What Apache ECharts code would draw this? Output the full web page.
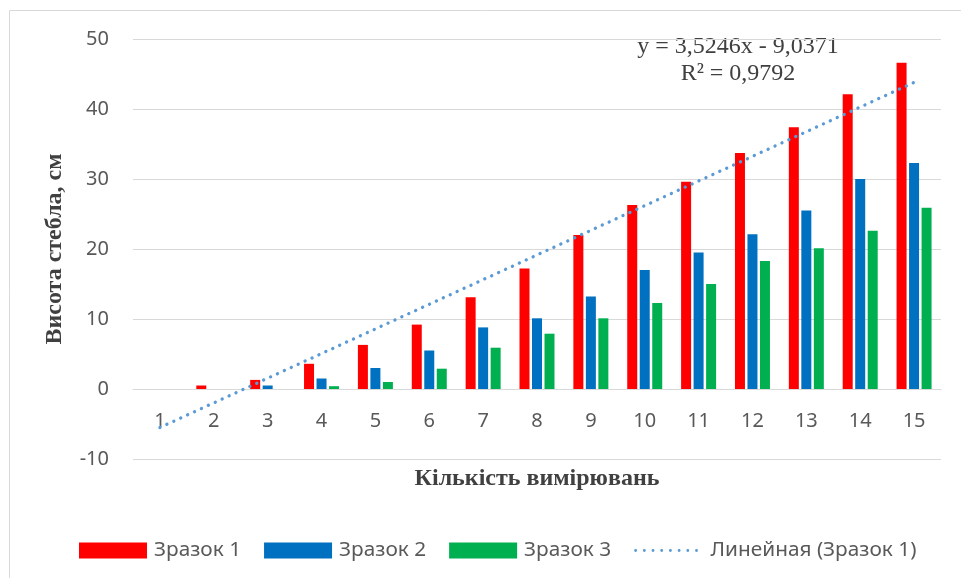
<!DOCTYPE html>
<html>
<head>
<meta charset="utf-8">
<script src="https://cdn.jsdelivr.net/npm/echarts@6/dist/echarts.min.js"></script>
<style>
  html, body { margin: 0; padding: 0; background: #fff; }
  #chart { width: 961px; height: 578px; }
</style>
</head>
<body>
<div id="chart"></div>
<script>
// кількість вимірювань
const categories = ['1', '2', '3', '4', '5', '6', '7', '8', '9', '10', '11', '12', '13', '14', '15']
const sample1 = [0, 0.5, 1.3, 3.6, 6.3, 9.2, 13.1, 17.2, 22.0, 26.3, 29.6, 33.7, 37.4, 42.1, 46.6]
const sample2 = [0, 0, 0.5, 1.5, 3.0, 5.5, 8.8, 10.1, 13.2, 17.0, 19.5, 22.1, 25.5, 30.0, 32.3]
const sample3 = [0, 0, 0, 0.4, 1.0, 2.9, 5.9, 7.9, 10.1, 12.3, 15.0, 18.3, 20.1, 22.6, 25.9]
// лінія тренду: значення на краях (1 та 15)
const trendStart = -5.5
const trendEnd = 43.8
const equationLines = ['y = 3,5246x - 9,0371', 'R² = 0,9792']
const yTicks = [-10, 0, 10, 20, 30, 40, 50]

let trend = categories.map((c, i) => {
  if (i === 0) return trendStart
  if (i === categories.length - 1) return trendEnd
  return null
})

let chart = echarts.init(document.getElementById('chart'), null, { renderer: 'canvas' })

const labelFont = 'Noto Sans'
const serif = 'Liberation Serif'

let option = {
  backgroundColor: '#fff',
  animation: false,
  graphic: [
    {
      type: 'rect',
      shape: { x: 9.5, y: 10.5, width: 1000, height: 1000 },
      style: { fill: 'none', stroke: '#d9d9d9', lineWidth: 1 },
      silent: true
    },
    {
      type: 'text',
      silent: true,
      style: {
        x: 738,
        y: 33,
        text: equationLines.join('\n'),
        font: '24px "' + serif + '"',
        fill: '#404040',
        align: 'center',
        verticalAlign: 'top',
        lineHeight: 27
      }
    }
  ],
  legend: {
    left: 79,
    top: 540,
    padding: 0,
    itemWidth: 68,
    itemHeight: 16,
    itemGap: 23,
    textStyle: { fontFamily: labelFont, fontSize: 20.8, color: '#595959', padding: [0, 0, 0, 2] },
    data: [
      { name: 'Зразок 1', icon: 'rect' },
      { name: 'Зразок 2', icon: 'rect' },
      { name: 'Зразок 3', icon: 'rect' },
      {
        name: 'Линейная (Зразок 1)',
        itemStyle: { color: 'rgba(0,0,0,0)', borderWidth: 0 },
        lineStyle: { color: '#5b9bd5', width: 2.8, type: [0.1, 8.6], cap: 'round' }
      }
    ]
  },
  grid: {
    left: 133,
    right: 20,
    top: 39,
    bottom: 119
  },
  xAxis: {
    type: 'category',
    data: categories,
    offset: -70,
    name: 'Кількість вимірювань',
    nameLocation: 'middle',
    nameGap: 78,
    nameTextStyle: { fontFamily: serif, fontSize: 24, fontWeight: 'bold', color: '#404040' },
    axisLine: { onZero: false, lineStyle: { color: '#d9d9d9', width: 1 } },
    axisTick: { show: false },
    axisLabel: { fontFamily: labelFont, fontSize: 20, color: '#595959', margin: 22 }
  },
  yAxis: {
    type: 'value',
    min: yTicks[0],
    max: yTicks[yTicks.length - 1],
    interval: 10,
    name: 'Висота стебла, см',
    nameLocation: 'middle',
    nameGap: 66,
    nameTextStyle: { fontFamily: serif, fontSize: 24, fontWeight: 'bold', color: '#404040' },
    axisLine: { show: false },
    axisTick: { show: false },
    axisLabel: { fontFamily: labelFont, fontSize: 20, color: '#595959', margin: 24 },
    splitLine: { lineStyle: { color: '#d9d9d9', width: 1 } }
  },
  series: [
    {
      name: 'Зразок 1',
      type: 'bar',
      data: sample1,
      barWidth: 10,
      barGap: '25%',
      itemStyle: { color: '#ff0000' }
    },
    {
      name: 'Зразок 2',
      type: 'bar',
      data: sample2,
      barWidth: 10,
      barGap: '25%',
      itemStyle: { color: '#0070c0' }
    },
    {
      name: 'Зразок 3',
      type: 'bar',
      data: sample3,
      barWidth: 10,
      barGap: '25%',
      itemStyle: { color: '#00b050' }
    },
    {
      name: 'Линейная (Зразок 1)',
      type: 'line',
      data: trend,
      connectNulls: true,
      symbol: 'none',
      z: 5,
      itemStyle: { color: '#5b9bd5' },
      lineStyle: { color: '#5b9bd5', width: 3.3, type: [0.1, 7.5], cap: 'round' }
    }
  ]
}

chart.setOption(option)
</script>
</body>
</html>
